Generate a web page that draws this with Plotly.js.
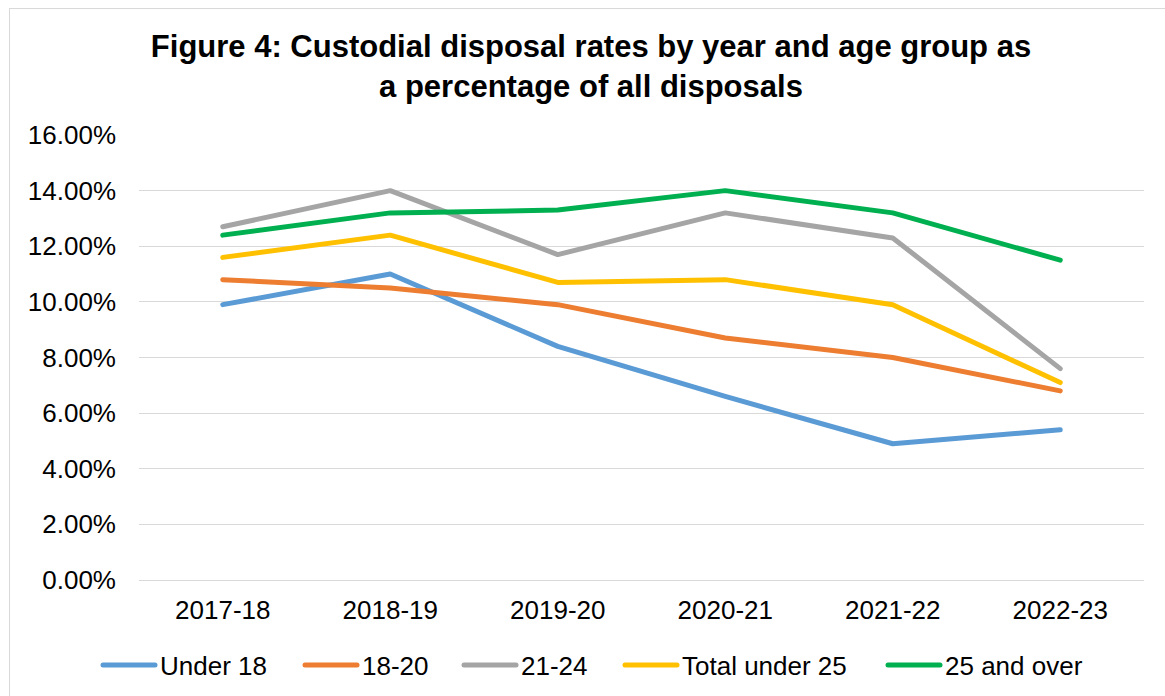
<!DOCTYPE html>
<html>
<head>
<meta charset="utf-8">
<script src="https://cdn.plot.ly/plotly-3.0.1.min.js"></script>
<style>
  html, body { margin: 0; padding: 0; background: #ffffff; }
  #wrap { position: relative; width: 1165px; height: 696px; overflow: hidden; }
  #chart { position: absolute; left: 0; top: 0; width: 1165px; height: 696px; }
  #frame { position: absolute; left: 9px; top: 8px; width: 1200px; height: 760px;
           border-left: 1px solid #d9d9d9; border-top: 1px solid #d9d9d9; pointer-events: none; }
  .scatterlayer path.js-line, .legendlines path { stroke-linecap: round; stroke-linejoin: round; }
</style>
</head>
<body>
<div id="wrap">
  <div id="chart"></div>
  <div id="frame"></div>
</div>
<script>
const years = ["2017-18", "2018-19", "2019-20", "2020-21", "2021-22", "2022-23"];

const under18      = [9.9, 11.0, 8.4, 6.6, 4.9, 5.4];
const age18to20    = [10.8, 10.5, 9.9, 8.7, 8.0, 6.8];
const age21to24    = [12.7, 14.0, 11.7, 13.2, 12.3, 7.6];
const totalUnder25 = [11.6, 12.4, 10.7, 10.8, 9.9, 7.1];
const age25over    = [12.4, 13.2, 13.3, 14.0, 13.2, 11.5];

const seriesNames  = ["Under 18", "18-20", "21-24", "Total under 25", "25 and over"];
const seriesColors = ["#5B9BD5", "#ED7D31", "#A5A5A5", "#FFC000", "#00B050"];
const seriesValues = [under18, age18to20, age21to24, totalUnder25, age25over];

// left pixel of each legend entry (style/layout only)
const legendLeft = [98, 300, 459, 620, 883];
const legendIds = ["legend", "legend2", "legend3", "legend4", "legend5"];

const font = "'Liberation Sans', Arial, sans-serif";

const traces = seriesValues.map((vals, i) => ({
  type: "scatter",
  mode: "lines",
  x: years,
  y: vals,
  name: seriesNames[i],
  legend: legendIds[i],
  line: { color: seriesColors[i], width: 5 },
  hoverinfo: "x+y+name"
}));

const layout = {
  width: 1165,
  height: 696,
  paper_bgcolor: "#ffffff",
  plot_bgcolor: "#ffffff",
  margin: { l: 139, r: 21, t: 135, b: 116 },
  title: {
    text: "<b>Figure 4: Custodial disposal rates by year and age group as<br>a percentage of all disposals</b>",
    font: { family: font, size: 31, color: "#000000" },
    xref: "container",
    yref: "container",
    x: 591 / 1165,
    xanchor: "center",
    y: 1 - 57 / 696,
    yanchor: "top"
  },
  xaxis: {
    type: "category",
    showgrid: false,
    zeroline: false,
    showline: false,
    ticks: "",
    ticklabelstandoff: 12,
    tickfont: { family: font, size: 26, color: "#000000" },
    range: [-0.5, 5.5]
  },
  yaxis: {
    range: [0, 16],
    dtick: 2,
    tick0: 0,
    tickformat: ".2f",
    ticksuffix: "%",
    showgrid: true,
    gridcolor: "#d9d9d9",
    gridwidth: 1.3,
    zeroline: true,
    zerolinecolor: "#d9d9d9",
    zerolinewidth: 1.3,
    showline: false,
    ticks: "",
    ticklabelstandoff: 22,
    tickfont: { family: font, size: 26, color: "#000000" }
  },
  showlegend: true,
  hovermode: "closest"
};

legendIds.forEach((id, i) => {
  layout[id] = {
    orientation: "h",
    xref: "container",
    yref: "container",
    x: legendLeft[i] / 1165,
    xanchor: "left",
    y: 1 - 665 / 696,
    yanchor: "middle",
    font: { family: font, size: 26, color: "#000000" },
    itemwidth: 52,
    borderwidth: 0,
    bgcolor: "rgba(0,0,0,0)"
  };
});

Plotly.newPlot("chart", traces, layout, { displayModeBar: false });
</script>
</body>
</html>
